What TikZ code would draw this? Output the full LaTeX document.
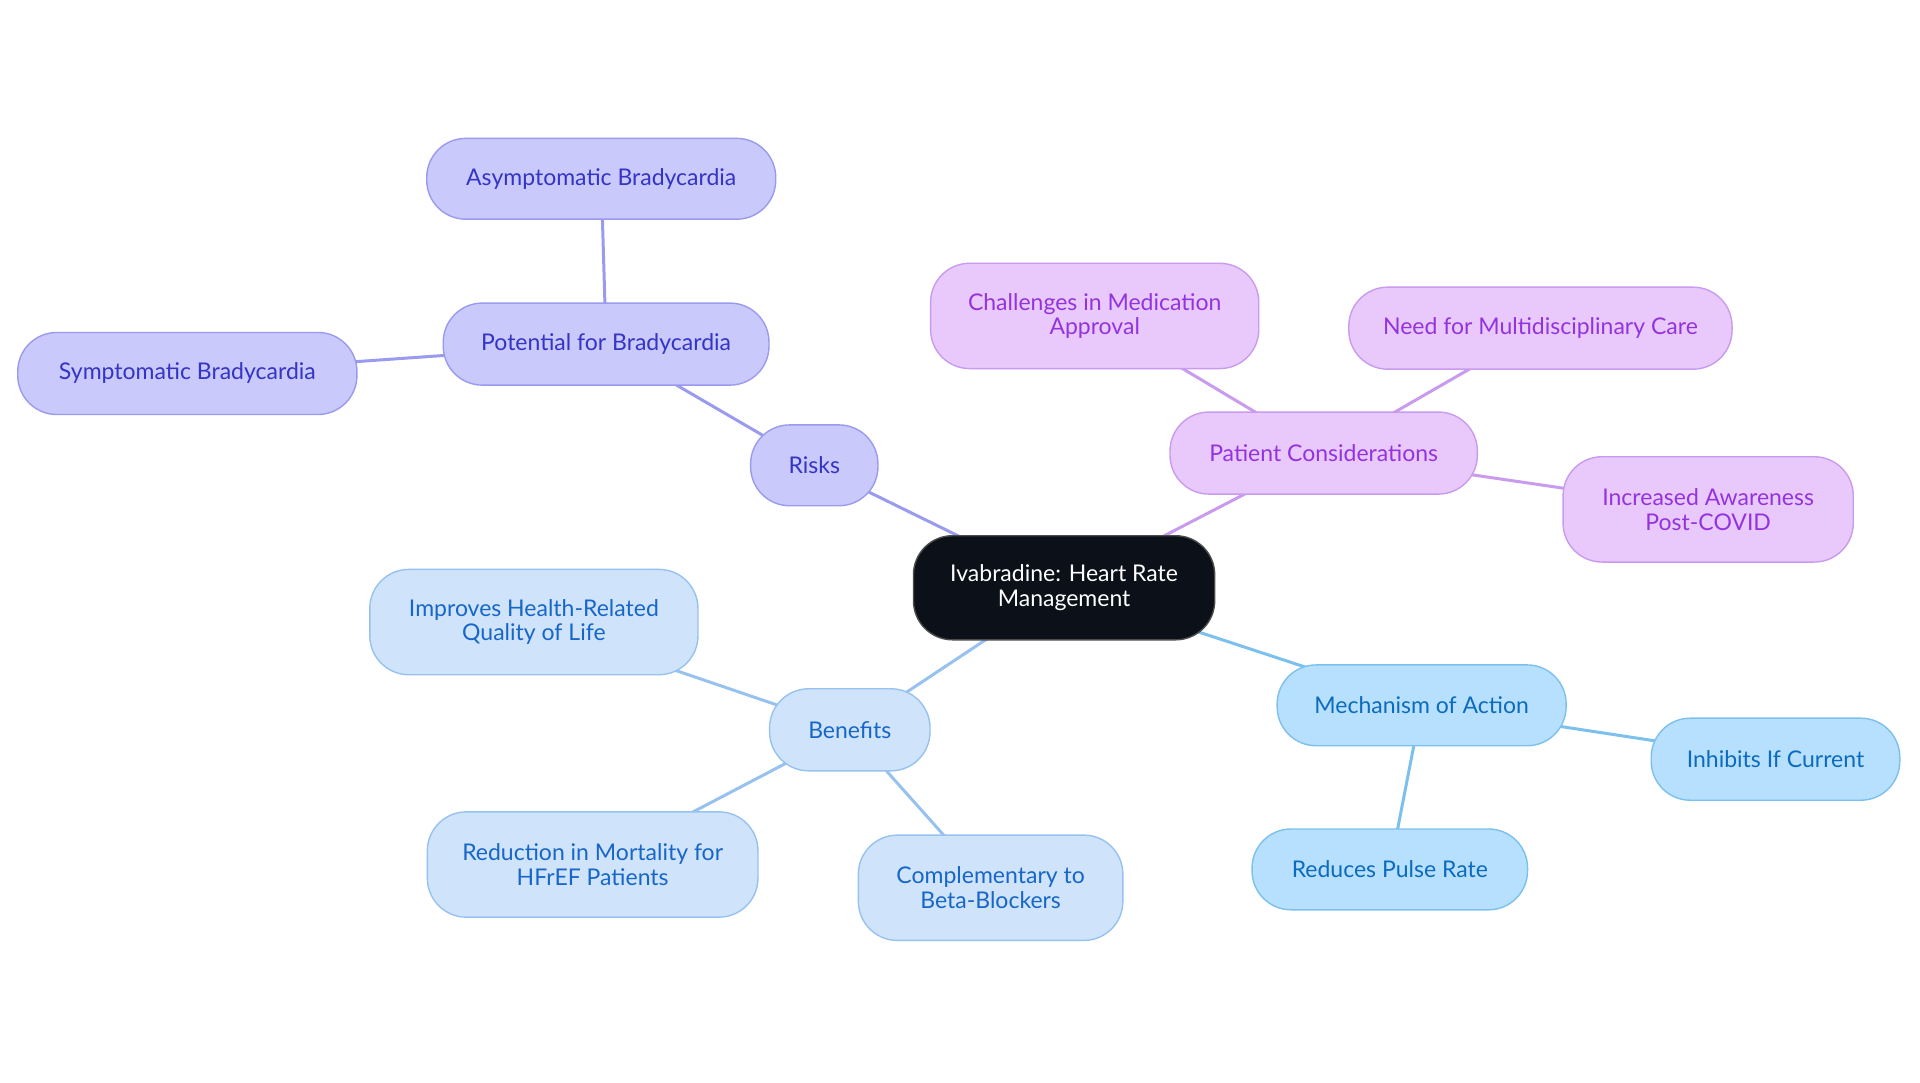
\documentclass[tikz,border=0pt]{standalone}
\usepackage{fontspec}
\setmainfont{Lato}
\usetikzlibrary{backgrounds}
\definecolor{rfill}{HTML}{C9C9FC}
\definecolor{rdraw}{HTML}{9A9AEE}
\definecolor{rtext}{HTML}{3434C6}
\definecolor{pfill}{HTML}{E9C9FC}
\definecolor{pdraw}{HTML}{C99BEF}
\definecolor{ptext}{HTML}{9333E0}
\definecolor{bfill}{HTML}{CFE4FB}
\definecolor{bdraw}{HTML}{97C2F0}
\definecolor{btext}{HTML}{1766C8}
\definecolor{mfill}{HTML}{B6E0FD}
\definecolor{mdraw}{HTML}{7CC0EE}
\definecolor{mtext}{HTML}{0D6BBF}
\definecolor{cfill}{HTML}{0B1019}
\def\u{0.6122pt}
\tikzset{
  box/.style={rounded corners=19.5pt, inner sep=0pt, align=center, line width=0.7pt,
    font=\fontsize{11.5}{12.3}\selectfont},
  sz/.style 2 args={minimum width=#1*\u, minimum height=#2*\u},
  rbox/.style={box, fill=rfill, draw=rdraw, text=rtext},
  pbox/.style={box, fill=pfill, draw=pdraw, text=ptext},
  bbox/.style={box, fill=bfill, draw=bdraw, text=btext},
  mbox/.style={box, fill=mfill, draw=mdraw, text=mtext},
  cbox/.style={box, fill=cfill, draw=gray!60!black, text=white},
  link/.style={line width=1.5pt},
}
\begin{document}
\begin{tikzpicture}[x=0.6122pt, y=-0.6122pt]
\useasboundingbox (0,0) rectangle (1568,884.4);
\node[cbox, sz={246}{85}] (c) at (869,480) {Ivabradine: Heart Rate\\Management};

\node[rbox, sz={104}{66}] (risks) at (665,380) {Risks};
\node[rbox, sz={266}{67}] (pot) at (495,281) {Potential for Bradycardia};
\node[rbox, sz={285}{66}] (asym) at (491,146) {Asymptomatic Bradycardia};
\node[rbox, sz={277}{67}] (sym) at (153,305) {Symptomatic Bradycardia};

\node[pbox, sz={251}{67}] (pat) at (1081,370) {Patient Considerations};
\node[pbox, sz={268}{86}] (chal) at (894,258) {Challenges in Medication\\Approval};
\node[pbox, sz={313}{67}] (need) at (1258,268) {Need for Multidisciplinary Care};
\node[pbox, sz={237}{86}] (aware) at (1395,416) {Increased Awareness\\Post-COVID};

\node[bbox, sz={131}{67}] (ben) at (694,596) {Benefits};
\node[bbox, sz={268}{86}] (qol) at (436,508) {Improves Health-Related\\Quality of Life};
\node[bbox, sz={270}{86}] (mort) at (484,706) {Reduction in Mortality for\\HFrEF Patients};
\node[bbox, sz={216}{86}] (comp) at (809,725) {Complementary to\\Beta-Blockers};

\node[mbox, sz={236}{66}] (mech) at (1161,576) {Mechanism of Action};
\node[mbox, sz={203}{67}] (inh) at (1450,620) {Inhibits If Current};
\node[mbox, sz={225}{66}] (red) at (1135,710) {Reduces Pulse Rate};

\begin{scope}[on background layer]
\draw[link, draw=rdraw] (c.center) -- (risks.center);
\draw[link, draw=rdraw] (risks.center) -- (pot.center);
\draw[link, draw=rdraw] (pot.center) -- (asym.center);
\draw[link, draw=rdraw] (pot.center) -- (sym.center);
\draw[link, draw=pdraw] (c.center) -- (pat.center);
\draw[link, draw=pdraw] (pat.center) -- (chal.center);
\draw[link, draw=pdraw] (pat.center) -- (need.center);
\draw[link, draw=pdraw] (pat.center) -- (aware.center);
\draw[link, draw=bdraw] (c.center) -- (ben.center);
\draw[link, draw=bdraw] (ben.center) -- (qol.center);
\draw[link, draw=bdraw] (ben.center) -- (mort.center);
\draw[link, draw=bdraw] (ben.center) -- (comp.center);
\draw[link, draw=mdraw] (c.center) -- (mech.center);
\draw[link, draw=mdraw] (mech.center) -- (inh.center);
\draw[link, draw=mdraw] (mech.center) -- (red.center);
\end{scope}
\end{tikzpicture}
\end{document}
